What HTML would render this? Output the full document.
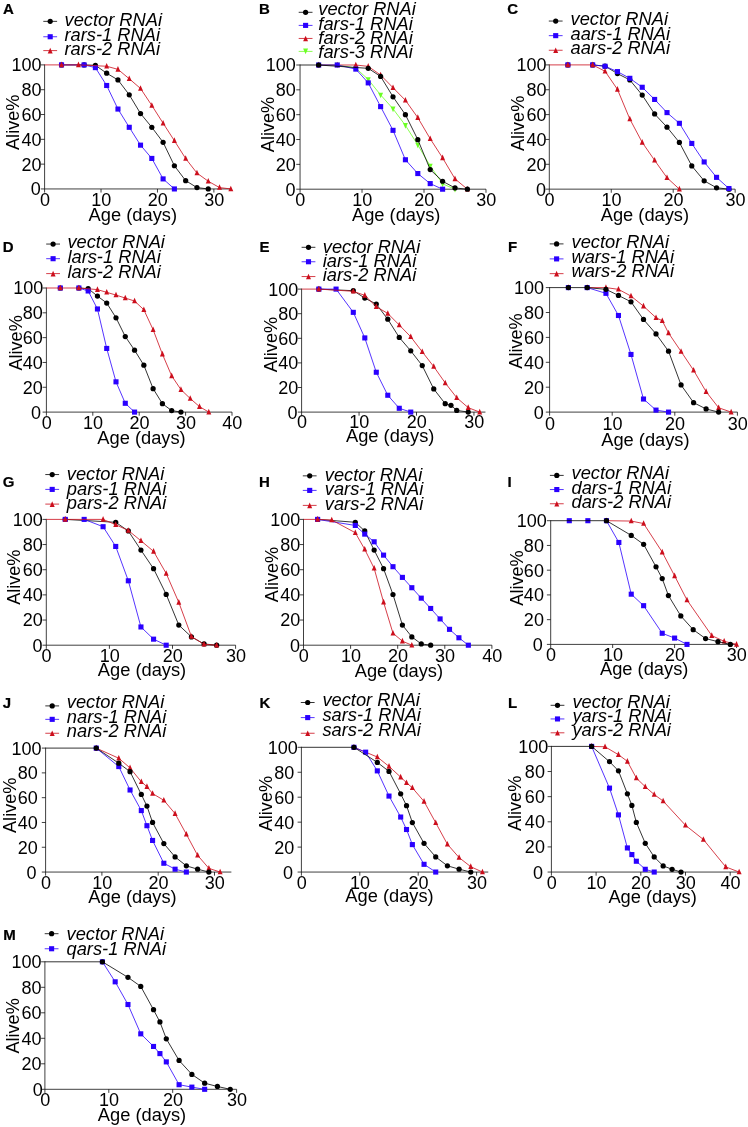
<!DOCTYPE html>
<html><head><meta charset="utf-8"><title>Figure</title>
<style>
html,body{margin:0;padding:0;background:#fff;}
body{width:748px;height:1127px;overflow:hidden;font-family:"Liberation Sans",sans-serif;}
svg{display:block;will-change:transform;}
</style></head><body>
<svg width="748" height="1127" viewBox="0 0 748 1127" font-family="'Liberation Sans', sans-serif" font-size="18.3" fill="#000">
<g>
<path d="M44.6 64.4V188.95 H230.82" fill="none" stroke="#000" stroke-width="0.75"/>
<path d="M40.8 188.95H44.6M40.8 164.14H44.6M40.8 139.33H44.6M40.8 114.52H44.6M40.8 89.71H44.6M40.8 64.9H44.6M44.6 188.95V192.55M101.03 188.95V192.55M157.46 188.95V192.55M213.89 188.95V192.55" fill="none" stroke="#000" stroke-width="0.75"/>
<text transform="translate(40.7,195.4) scale(1,1)" text-anchor="end" font-size="18">0</text>
<text transform="translate(41.6,170.59) scale(1,1)" text-anchor="end" font-size="18">20</text>
<text transform="translate(41.6,145.78) scale(1,1)" text-anchor="end" font-size="18">40</text>
<text transform="translate(41.6,120.97) scale(1,1)" text-anchor="end" font-size="18">60</text>
<text transform="translate(41.6,96.16) scale(1,1)" text-anchor="end" font-size="18">80</text>
<text transform="translate(41.6,71.35) scale(1,1)" text-anchor="end" font-size="18">100</text>
<text transform="translate(44.9,205.6) scale(1,1)" text-anchor="middle" font-size="18">0</text>
<text transform="translate(101.33,205.6) scale(1,1)" text-anchor="middle" font-size="18">10</text>
<text transform="translate(157.76,205.6) scale(1,1)" text-anchor="middle" font-size="18">20</text>
<text transform="translate(214.19,205.6) scale(1,1)" text-anchor="middle" font-size="18">30</text>
<text transform="translate(132.8,220.7) scale(1,1)" text-anchor="middle">Age (days)</text>
<text transform="translate(19.4,122.3) rotate(-90)" text-anchor="middle" font-size="18.1">Alive%</text>
<text transform="translate(3,13.7) scale(1.05,1)" font-size="14.3" font-weight="bold" stroke="#000" stroke-width="0.2">A</text>
<path d="M43.3 21.35H57.1" stroke="#000000" stroke-width="0.8" fill="none"/>
<circle cx="50.2" cy="21.35" r="2.62" fill="#000000"/>
<text transform="translate(64.5,26) scale(1,1)" font-style="italic">vector RNAi</text>
<path d="M43.3 36.75H57.1" stroke="#2a00ff" stroke-width="0.8" fill="none"/>
<rect x="47.65" y="34.2" width="5.1" height="5.1" fill="#2a00ff"/>
<text transform="translate(64.5,41) scale(1,1)" font-style="italic">rars-1 RNAi</text>
<path d="M43.3 50.6H57.1" stroke="#cc0e1c" stroke-width="0.8" fill="none"/>
<path d="M50.2 47.8L52.67 53.4L47.73 53.4Z" fill="#cc0e1c"/>
<text transform="translate(64.5,55) scale(1,1)" font-style="italic">rars-2 RNAi</text>
<path d="M61.53 64.9L84.1 64.9L95.39 65.27L106.67 73.21L117.96 79.91L129.25 94.8L140.53 113.53L151.82 127.3L163.1 142.31L174.39 165.75L185.67 180.64L196.96 187.59L208.25 188.95" fill="none" stroke="#000000" stroke-width="0.8" stroke-linejoin="round"/>
<circle cx="61.53" cy="64.9" r="2.62" fill="#000000"/>
<circle cx="84.1" cy="64.9" r="2.62" fill="#000000"/>
<circle cx="95.39" cy="65.27" r="2.62" fill="#000000"/>
<circle cx="106.67" cy="73.21" r="2.62" fill="#000000"/>
<circle cx="117.96" cy="79.91" r="2.62" fill="#000000"/>
<circle cx="129.25" cy="94.8" r="2.62" fill="#000000"/>
<circle cx="140.53" cy="113.53" r="2.62" fill="#000000"/>
<circle cx="151.82" cy="127.3" r="2.62" fill="#000000"/>
<circle cx="163.1" cy="142.31" r="2.62" fill="#000000"/>
<circle cx="174.39" cy="165.75" r="2.62" fill="#000000"/>
<circle cx="185.67" cy="180.64" r="2.62" fill="#000000"/>
<circle cx="196.96" cy="187.59" r="2.62" fill="#000000"/>
<circle cx="208.25" cy="188.95" r="2.62" fill="#000000"/>
<path d="M61.53 64.9L84.1 64.9L95.39 67.63L106.67 85.49L117.96 109.06L129.25 127.3L140.53 145.16L151.82 158.43L163.1 178.9L174.39 188.95" fill="none" stroke="#2a00ff" stroke-width="0.8" stroke-linejoin="round"/>
<rect x="58.98" y="62.35" width="5.1" height="5.1" fill="#2a00ff"/>
<rect x="81.55" y="62.35" width="5.1" height="5.1" fill="#2a00ff"/>
<rect x="92.84" y="65.08" width="5.1" height="5.1" fill="#2a00ff"/>
<rect x="104.12" y="82.94" width="5.1" height="5.1" fill="#2a00ff"/>
<rect x="115.41" y="106.51" width="5.1" height="5.1" fill="#2a00ff"/>
<rect x="126.7" y="124.75" width="5.1" height="5.1" fill="#2a00ff"/>
<rect x="137.98" y="142.61" width="5.1" height="5.1" fill="#2a00ff"/>
<rect x="149.27" y="155.88" width="5.1" height="5.1" fill="#2a00ff"/>
<rect x="160.55" y="176.35" width="5.1" height="5.1" fill="#2a00ff"/>
<rect x="171.84" y="186.4" width="5.1" height="5.1" fill="#2a00ff"/>
<path d="M44.6 64.9L61.53 64.9L78.46 64.9L106.67 66.26L117.96 69.37L129.25 78.79L140.53 88.47L151.82 105.46L163.1 123.2L174.39 140.69L185.67 158.56L196.96 173.07L208.25 181.26L219.53 187.59L230.82 188.95" fill="none" stroke="#cc0e1c" stroke-width="0.8" stroke-linejoin="round"/>
<path d="M61.53 61.58L64 67.18L59.06 67.18Z" fill="#cc0e1c"/>
<path d="M78.46 61.58L80.93 67.18L75.99 67.18Z" fill="#cc0e1c"/>
<path d="M106.67 62.94L109.14 68.54L104.2 68.54Z" fill="#cc0e1c"/>
<path d="M117.96 66.05L120.43 71.65L115.49 71.65Z" fill="#cc0e1c"/>
<path d="M129.25 75.47L131.72 81.07L126.78 81.07Z" fill="#cc0e1c"/>
<path d="M140.53 85.15L143 90.75L138.06 90.75Z" fill="#cc0e1c"/>
<path d="M151.82 102.14L154.29 107.74L149.35 107.74Z" fill="#cc0e1c"/>
<path d="M163.1 119.88L165.57 125.48L160.63 125.48Z" fill="#cc0e1c"/>
<path d="M174.39 137.37L176.86 142.97L171.92 142.97Z" fill="#cc0e1c"/>
<path d="M185.67 155.24L188.14 160.84L183.2 160.84Z" fill="#cc0e1c"/>
<path d="M196.96 169.75L199.43 175.35L194.49 175.35Z" fill="#cc0e1c"/>
<path d="M208.25 177.94L210.72 183.54L205.78 183.54Z" fill="#cc0e1c"/>
<path d="M219.53 184.27L222 189.87L217.06 189.87Z" fill="#cc0e1c"/>
<path d="M230.82 185.63L233.29 191.23L228.35 191.23Z" fill="#cc0e1c"/>
</g>
<g>
<path d="M300.05 64.5V189.2 H485.99" fill="none" stroke="#000" stroke-width="0.75"/>
<path d="M296.25 189.2H300.05M296.25 164.36H300.05M296.25 139.52H300.05M296.25 114.68H300.05M296.25 89.84H300.05M296.25 65H300.05M300.05 189.2V192.8M362.03 189.2V192.8M424.01 189.2V192.8M485.99 189.2V192.8" fill="none" stroke="#000" stroke-width="0.75"/>
<text transform="translate(295.45,195.65) scale(1,1)" text-anchor="end" font-size="18">0</text>
<text transform="translate(295.75,170.81) scale(1,1)" text-anchor="end" font-size="18">20</text>
<text transform="translate(295.75,145.97) scale(1,1)" text-anchor="end" font-size="18">40</text>
<text transform="translate(295.75,121.13) scale(1,1)" text-anchor="end" font-size="18">60</text>
<text transform="translate(295.75,96.29) scale(1,1)" text-anchor="end" font-size="18">80</text>
<text transform="translate(295.75,71.45) scale(1,1)" text-anchor="end" font-size="18">100</text>
<text transform="translate(300.35,206.2) scale(1,1)" text-anchor="middle" font-size="18">0</text>
<text transform="translate(362.33,206.2) scale(1,1)" text-anchor="middle" font-size="18">10</text>
<text transform="translate(424.31,206.2) scale(1,1)" text-anchor="middle" font-size="18">20</text>
<text transform="translate(486.29,206.2) scale(1,1)" text-anchor="middle" font-size="18">30</text>
<text transform="translate(396.2,221.1) scale(1,1)" text-anchor="middle">Age (days)</text>
<text transform="translate(274.3,124.5) rotate(-90)" text-anchor="middle" font-size="18.1">Alive%</text>
<text transform="translate(259,13.6) scale(1.05,1)" font-size="14.3" font-weight="bold" stroke="#000" stroke-width="0.2">B</text>
<path d="M298.7 12.3H312.5" stroke="#000000" stroke-width="0.8" fill="none"/>
<circle cx="305.6" cy="12.3" r="2.62" fill="#000000"/>
<text transform="translate(318.3,15) scale(1,1)" font-style="italic">vector RNAi</text>
<path d="M298.7 25.4H312.5" stroke="#2a00ff" stroke-width="0.8" fill="none"/>
<rect x="303.05" y="22.85" width="5.1" height="5.1" fill="#2a00ff"/>
<text transform="translate(318.3,30) scale(1,1)" font-style="italic">fars-1 RNAi</text>
<path d="M298.7 38.45H312.5" stroke="#cc0e1c" stroke-width="0.8" fill="none"/>
<path d="M305.6 35.65L308.07 41.25L303.13 41.25Z" fill="#cc0e1c"/>
<text transform="translate(318.3,44) scale(1,1)" font-style="italic">fars-2 RNAi</text>
<path d="M298.7 51.4H312.5" stroke="#6cff24" stroke-width="0.8" fill="none"/>
<path d="M305.6 54.2L308.07 48.6L303.13 48.6Z" fill="#6cff24"/>
<text transform="translate(318.3,58) scale(1,1)" font-style="italic">fars-3 RNAi</text>
<path d="M318.64 65L337.24 65L355.83 68.11L368.23 79.53L380.62 94.93L393.02 108.84L405.42 125.36L417.81 144.98L430.21 165.97L442.6 183.86L455 189.2" fill="none" stroke="#6cff24" stroke-width="0.8" stroke-linejoin="round"/>
<path d="M318.64 68.32L321.11 62.72L316.17 62.72Z" fill="#6cff24"/>
<path d="M337.24 68.32L339.71 62.72L334.77 62.72Z" fill="#6cff24"/>
<path d="M355.83 71.43L358.3 65.83L353.36 65.83Z" fill="#6cff24"/>
<path d="M368.23 82.85L370.7 77.25L365.76 77.25Z" fill="#6cff24"/>
<path d="M380.62 98.25L383.09 92.65L378.15 92.65Z" fill="#6cff24"/>
<path d="M393.02 112.16L395.49 106.56L390.55 106.56Z" fill="#6cff24"/>
<path d="M405.42 128.68L407.89 123.08L402.95 123.08Z" fill="#6cff24"/>
<path d="M417.81 148.3L420.28 142.7L415.34 142.7Z" fill="#6cff24"/>
<path d="M430.21 169.29L432.68 163.69L427.74 163.69Z" fill="#6cff24"/>
<path d="M442.6 187.18L445.07 181.58L440.13 181.58Z" fill="#6cff24"/>
<path d="M455 192.52L457.47 186.92L452.53 186.92Z" fill="#6cff24"/>
<path d="M318.64 65L337.24 65L355.83 65L368.23 66.37L380.62 75.06L393.02 87.73L405.42 100.27L417.81 117.66L430.21 138.77L442.6 157.9L455 178.89L467.4 189.2" fill="none" stroke="#cc0e1c" stroke-width="0.8" stroke-linejoin="round"/>
<path d="M318.64 61.68L321.11 67.28L316.17 67.28Z" fill="#cc0e1c"/>
<path d="M337.24 61.68L339.71 67.28L334.77 67.28Z" fill="#cc0e1c"/>
<path d="M355.83 61.68L358.3 67.28L353.36 67.28Z" fill="#cc0e1c"/>
<path d="M368.23 63.05L370.7 68.65L365.76 68.65Z" fill="#cc0e1c"/>
<path d="M380.62 71.74L383.09 77.34L378.15 77.34Z" fill="#cc0e1c"/>
<path d="M393.02 84.41L395.49 90.01L390.55 90.01Z" fill="#cc0e1c"/>
<path d="M405.42 96.95L407.89 102.55L402.95 102.55Z" fill="#cc0e1c"/>
<path d="M417.81 114.34L420.28 119.94L415.34 119.94Z" fill="#cc0e1c"/>
<path d="M430.21 135.45L432.68 141.05L427.74 141.05Z" fill="#cc0e1c"/>
<path d="M442.6 154.58L445.07 160.18L440.13 160.18Z" fill="#cc0e1c"/>
<path d="M455 175.57L457.47 181.17L452.53 181.17Z" fill="#cc0e1c"/>
<path d="M467.4 185.88L469.87 191.48L464.93 191.48Z" fill="#cc0e1c"/>
<path d="M318.64 65L337.24 65L355.83 69.1L368.23 82.88L380.62 106.61L393.02 130.33L405.42 159.76L417.81 173.55L430.21 183.61L442.6 189.2" fill="none" stroke="#2a00ff" stroke-width="0.8" stroke-linejoin="round"/>
<rect x="316.09" y="62.45" width="5.1" height="5.1" fill="#2a00ff"/>
<rect x="334.69" y="62.45" width="5.1" height="5.1" fill="#2a00ff"/>
<rect x="353.28" y="66.55" width="5.1" height="5.1" fill="#2a00ff"/>
<rect x="365.68" y="80.33" width="5.1" height="5.1" fill="#2a00ff"/>
<rect x="378.07" y="104.06" width="5.1" height="5.1" fill="#2a00ff"/>
<rect x="390.47" y="127.78" width="5.1" height="5.1" fill="#2a00ff"/>
<rect x="402.87" y="157.21" width="5.1" height="5.1" fill="#2a00ff"/>
<rect x="415.26" y="171" width="5.1" height="5.1" fill="#2a00ff"/>
<rect x="427.66" y="181.06" width="5.1" height="5.1" fill="#2a00ff"/>
<rect x="440.05" y="186.65" width="5.1" height="5.1" fill="#2a00ff"/>
<path d="M300.05 65L318.64 65L368.23 68.35L380.62 76.43L393.02 96.8L405.42 114.68L417.81 139.64L430.21 169.58L442.6 181.25L455 187.96L467.4 189.2" fill="none" stroke="#000000" stroke-width="0.8" stroke-linejoin="round"/>
<circle cx="318.64" cy="65" r="2.62" fill="#000000"/>
<circle cx="368.23" cy="68.35" r="2.62" fill="#000000"/>
<circle cx="380.62" cy="76.43" r="2.62" fill="#000000"/>
<circle cx="393.02" cy="96.8" r="2.62" fill="#000000"/>
<circle cx="405.42" cy="114.68" r="2.62" fill="#000000"/>
<circle cx="417.81" cy="139.64" r="2.62" fill="#000000"/>
<circle cx="430.21" cy="169.58" r="2.62" fill="#000000"/>
<circle cx="442.6" cy="181.25" r="2.62" fill="#000000"/>
<circle cx="455" cy="187.96" r="2.62" fill="#000000"/>
<circle cx="467.4" cy="189.2" r="2.62" fill="#000000"/>
</g>
<g>
<path d="M549.3 64.4V189.15 H735.15" fill="none" stroke="#000" stroke-width="0.75"/>
<path d="M545.5 189.15H549.3M545.5 164.3H549.3M545.5 139.45H549.3M545.5 114.6H549.3M545.5 89.75H549.3M545.5 64.9H549.3M549.3 189.15V192.75M611.25 189.15V192.75M673.2 189.15V192.75M735.15 189.15V192.75" fill="none" stroke="#000" stroke-width="0.75"/>
<text transform="translate(546.1,195.6) scale(1,1)" text-anchor="end" font-size="18">0</text>
<text transform="translate(546.5,170.75) scale(1,1)" text-anchor="end" font-size="18">20</text>
<text transform="translate(546.5,145.9) scale(1,1)" text-anchor="end" font-size="18">40</text>
<text transform="translate(546.5,121.05) scale(1,1)" text-anchor="end" font-size="18">60</text>
<text transform="translate(546.5,96.2) scale(1,1)" text-anchor="end" font-size="18">80</text>
<text transform="translate(546.5,71.35) scale(1,1)" text-anchor="end" font-size="18">100</text>
<text transform="translate(549.6,205.9) scale(1,1)" text-anchor="middle" font-size="18">0</text>
<text transform="translate(611.55,205.9) scale(1,1)" text-anchor="middle" font-size="18">10</text>
<text transform="translate(673.5,205.9) scale(1,1)" text-anchor="middle" font-size="18">20</text>
<text transform="translate(735.45,205.9) scale(1,1)" text-anchor="middle" font-size="18">30</text>
<text transform="translate(644.9,221) scale(1,1)" text-anchor="middle">Age (days)</text>
<text transform="translate(523.5,123.4) rotate(-90)" text-anchor="middle" font-size="18.1">Alive%</text>
<text transform="translate(507.2,13.7) scale(1.05,1)" font-size="14.3" font-weight="bold" stroke="#000" stroke-width="0.2">C</text>
<path d="M548.8 21.05H562.6" stroke="#000000" stroke-width="0.8" fill="none"/>
<circle cx="555.7" cy="21.05" r="2.62" fill="#000000"/>
<text transform="translate(570.5,25) scale(1,1)" font-style="italic">vector RNAi</text>
<path d="M548.8 35.65H562.6" stroke="#2a00ff" stroke-width="0.8" fill="none"/>
<rect x="553.15" y="33.1" width="5.1" height="5.1" fill="#2a00ff"/>
<text transform="translate(570.5,40) scale(1,1)" font-style="italic">aars-1 RNAi</text>
<path d="M548.8 50.25H562.6" stroke="#cc0e1c" stroke-width="0.8" fill="none"/>
<path d="M555.7 47.45L558.17 53.05L553.23 53.05Z" fill="#cc0e1c"/>
<text transform="translate(570.5,54) scale(1,1)" font-style="italic">aars-2 RNAi</text>
<path d="M592.66 64.9L605.05 66.14L617.44 73.6L629.83 79.93L642.22 95.09L654.62 113.98L667 127.15L679.39 142.43L691.78 165.92L704.17 180.83L716.56 187.78L728.95 189.15" fill="none" stroke="#000000" stroke-width="0.8" stroke-linejoin="round"/>
<circle cx="567.88" cy="64.9" r="2.62" fill="#000000"/>
<circle cx="592.66" cy="64.9" r="2.62" fill="#000000"/>
<circle cx="605.05" cy="66.14" r="2.62" fill="#000000"/>
<circle cx="617.44" cy="73.6" r="2.62" fill="#000000"/>
<circle cx="629.83" cy="79.93" r="2.62" fill="#000000"/>
<circle cx="642.22" cy="95.09" r="2.62" fill="#000000"/>
<circle cx="654.62" cy="113.98" r="2.62" fill="#000000"/>
<circle cx="667" cy="127.15" r="2.62" fill="#000000"/>
<circle cx="679.39" cy="142.43" r="2.62" fill="#000000"/>
<circle cx="691.78" cy="165.92" r="2.62" fill="#000000"/>
<circle cx="704.17" cy="180.83" r="2.62" fill="#000000"/>
<circle cx="716.56" cy="187.78" r="2.62" fill="#000000"/>
<circle cx="728.95" cy="189.15" r="2.62" fill="#000000"/>
<path d="M592.66 64.9L605.05 66.27L617.44 71.61L629.83 78.32L642.22 87.27L654.62 99.44L667 112.61L679.39 123.3L691.78 143.43L704.17 161.94L716.56 177.35L728.95 188.53" fill="none" stroke="#2a00ff" stroke-width="0.8" stroke-linejoin="round"/>
<rect x="565.34" y="62.35" width="5.1" height="5.1" fill="#2a00ff"/>
<rect x="590.12" y="62.35" width="5.1" height="5.1" fill="#2a00ff"/>
<rect x="602.5" y="63.72" width="5.1" height="5.1" fill="#2a00ff"/>
<rect x="614.89" y="69.06" width="5.1" height="5.1" fill="#2a00ff"/>
<rect x="627.28" y="75.77" width="5.1" height="5.1" fill="#2a00ff"/>
<rect x="639.67" y="84.72" width="5.1" height="5.1" fill="#2a00ff"/>
<rect x="652.07" y="96.89" width="5.1" height="5.1" fill="#2a00ff"/>
<rect x="664.46" y="110.06" width="5.1" height="5.1" fill="#2a00ff"/>
<rect x="676.85" y="120.75" width="5.1" height="5.1" fill="#2a00ff"/>
<rect x="689.24" y="140.88" width="5.1" height="5.1" fill="#2a00ff"/>
<rect x="701.62" y="159.39" width="5.1" height="5.1" fill="#2a00ff"/>
<rect x="714.01" y="174.8" width="5.1" height="5.1" fill="#2a00ff"/>
<rect x="726.4" y="185.98" width="5.1" height="5.1" fill="#2a00ff"/>
<path d="M549.3 64.9L567.88 64.9L592.66 64.9L605.05 71.24L617.44 89.38L629.83 119.07L642.22 142.43L654.62 160.32L667 177.72L679.39 189.15" fill="none" stroke="#cc0e1c" stroke-width="0.8" stroke-linejoin="round"/>
<path d="M567.88 61.58L570.36 67.18L565.41 67.18Z" fill="#cc0e1c"/>
<path d="M592.66 61.58L595.13 67.18L590.19 67.18Z" fill="#cc0e1c"/>
<path d="M605.05 67.92L607.52 73.52L602.58 73.52Z" fill="#cc0e1c"/>
<path d="M617.44 86.06L619.91 91.66L614.97 91.66Z" fill="#cc0e1c"/>
<path d="M629.83 115.75L632.3 121.35L627.36 121.35Z" fill="#cc0e1c"/>
<path d="M642.22 139.11L644.69 144.71L639.75 144.71Z" fill="#cc0e1c"/>
<path d="M654.62 157L657.09 162.6L652.14 162.6Z" fill="#cc0e1c"/>
<path d="M667 174.4L669.48 180L664.53 180Z" fill="#cc0e1c"/>
<path d="M679.39 185.83L681.87 191.43L676.92 191.43Z" fill="#cc0e1c"/>
</g>
<g>
<path d="M46.4 287.5V412.1 H232" fill="none" stroke="#000" stroke-width="0.75"/>
<path d="M42.6 412.1H46.4M42.6 387.28H46.4M42.6 362.46H46.4M42.6 337.64H46.4M42.6 312.82H46.4M42.6 288H46.4M46.4 412.1V415.7M92.8 412.1V415.7M139.2 412.1V415.7M185.6 412.1V415.7M232 412.1V415.7" fill="none" stroke="#000" stroke-width="0.75"/>
<text transform="translate(40.9,418.55) scale(1,1)" text-anchor="end" font-size="18">0</text>
<text transform="translate(42.8,393.73) scale(1,1)" text-anchor="end" font-size="18">20</text>
<text transform="translate(42.8,368.91) scale(1,1)" text-anchor="end" font-size="18">40</text>
<text transform="translate(42.8,344.09) scale(1,1)" text-anchor="end" font-size="18">60</text>
<text transform="translate(42.8,319.27) scale(1,1)" text-anchor="end" font-size="18">80</text>
<text transform="translate(43.3,294.45) scale(1,1)" text-anchor="end" font-size="18">100</text>
<text transform="translate(46.7,429) scale(1,1)" text-anchor="middle" font-size="18">0</text>
<text transform="translate(93.1,429) scale(1,1)" text-anchor="middle" font-size="18">10</text>
<text transform="translate(139.5,429) scale(1,1)" text-anchor="middle" font-size="18">20</text>
<text transform="translate(185.9,429) scale(1,1)" text-anchor="middle" font-size="18">30</text>
<text transform="translate(232.3,429) scale(1,1)" text-anchor="middle" font-size="18">40</text>
<text transform="translate(141.5,444.4) scale(1,1)" text-anchor="middle">Age (days)</text>
<text transform="translate(21.5,342.9) rotate(-90)" text-anchor="middle" font-size="18.1">Alive%</text>
<text transform="translate(2.8,251.6) scale(1.05,1)" font-size="14.3" font-weight="bold" stroke="#000" stroke-width="0.2">D</text>
<path d="M46.2 244.05H60" stroke="#000000" stroke-width="0.8" fill="none"/>
<circle cx="53.1" cy="244.05" r="2.62" fill="#000000"/>
<text transform="translate(67.4,248) scale(1,1)" font-style="italic">vector RNAi</text>
<path d="M46.2 258.7H60" stroke="#2a00ff" stroke-width="0.8" fill="none"/>
<rect x="50.55" y="256.15" width="5.1" height="5.1" fill="#2a00ff"/>
<text transform="translate(67.4,263) scale(1,1)" font-style="italic">lars-1 RNAi</text>
<path d="M46.2 273.6H60" stroke="#cc0e1c" stroke-width="0.8" fill="none"/>
<path d="M53.1 270.8L55.57 276.4L50.63 276.4Z" fill="#cc0e1c"/>
<text transform="translate(67.4,278) scale(1,1)" font-style="italic">lars-2 RNAi</text>
<path d="M78.88 288L88.16 288.62L97.44 296.07L106.72 303.02L116 317.78L125.28 336.52L134.56 350.17L143.84 365.19L153.12 388.65L162.4 403.66L171.68 410.61L180.96 412.1" fill="none" stroke="#000000" stroke-width="0.8" stroke-linejoin="round"/>
<circle cx="60.32" cy="288" r="2.62" fill="#000000"/>
<circle cx="78.88" cy="288" r="2.62" fill="#000000"/>
<circle cx="88.16" cy="288.62" r="2.62" fill="#000000"/>
<circle cx="97.44" cy="296.07" r="2.62" fill="#000000"/>
<circle cx="106.72" cy="303.02" r="2.62" fill="#000000"/>
<circle cx="116" cy="317.78" r="2.62" fill="#000000"/>
<circle cx="125.28" cy="336.52" r="2.62" fill="#000000"/>
<circle cx="134.56" cy="350.17" r="2.62" fill="#000000"/>
<circle cx="143.84" cy="365.19" r="2.62" fill="#000000"/>
<circle cx="153.12" cy="388.65" r="2.62" fill="#000000"/>
<circle cx="162.4" cy="403.66" r="2.62" fill="#000000"/>
<circle cx="171.68" cy="410.61" r="2.62" fill="#000000"/>
<circle cx="180.96" cy="412.1" r="2.62" fill="#000000"/>
<path d="M78.88 288L88.16 290.98L97.44 308.97L106.72 348.44L116 381.82L125.28 403.29L134.56 412.1" fill="none" stroke="#2a00ff" stroke-width="0.8" stroke-linejoin="round"/>
<rect x="57.77" y="285.45" width="5.1" height="5.1" fill="#2a00ff"/>
<rect x="76.33" y="285.45" width="5.1" height="5.1" fill="#2a00ff"/>
<rect x="85.61" y="288.43" width="5.1" height="5.1" fill="#2a00ff"/>
<rect x="94.89" y="306.42" width="5.1" height="5.1" fill="#2a00ff"/>
<rect x="104.17" y="345.89" width="5.1" height="5.1" fill="#2a00ff"/>
<rect x="113.45" y="379.27" width="5.1" height="5.1" fill="#2a00ff"/>
<rect x="122.73" y="400.74" width="5.1" height="5.1" fill="#2a00ff"/>
<rect x="132.01" y="409.55" width="5.1" height="5.1" fill="#2a00ff"/>
<path d="M46.4 288L60.32 288L78.88 288L97.44 289.61L106.72 292.34L116 295.07L125.28 298.05L134.56 301.03L143.84 309.72L153.12 329.7L162.4 354.15L171.68 375.86L180.96 389.64L190.24 398.57L199.52 406.64L208.8 412.1" fill="none" stroke="#cc0e1c" stroke-width="0.8" stroke-linejoin="round"/>
<path d="M60.32 284.68L62.79 290.28L57.85 290.28Z" fill="#cc0e1c"/>
<path d="M78.88 284.68L81.35 290.28L76.41 290.28Z" fill="#cc0e1c"/>
<path d="M97.44 286.29L99.91 291.89L94.97 291.89Z" fill="#cc0e1c"/>
<path d="M106.72 289.02L109.19 294.62L104.25 294.62Z" fill="#cc0e1c"/>
<path d="M116 291.75L118.47 297.35L113.53 297.35Z" fill="#cc0e1c"/>
<path d="M125.28 294.73L127.75 300.33L122.81 300.33Z" fill="#cc0e1c"/>
<path d="M134.56 297.71L137.03 303.31L132.09 303.31Z" fill="#cc0e1c"/>
<path d="M143.84 306.4L146.31 312L141.37 312Z" fill="#cc0e1c"/>
<path d="M153.12 326.38L155.59 331.98L150.65 331.98Z" fill="#cc0e1c"/>
<path d="M162.4 350.83L164.87 356.43L159.93 356.43Z" fill="#cc0e1c"/>
<path d="M171.68 372.54L174.15 378.14L169.21 378.14Z" fill="#cc0e1c"/>
<path d="M180.96 386.32L183.43 391.92L178.49 391.92Z" fill="#cc0e1c"/>
<path d="M190.24 395.25L192.71 400.85L187.77 400.85Z" fill="#cc0e1c"/>
<path d="M199.52 403.32L201.99 408.92L197.05 408.92Z" fill="#cc0e1c"/>
<path d="M208.8 408.78L211.27 414.38L206.33 414.38Z" fill="#cc0e1c"/>
</g>
<g>
<path d="M301.6 288.6V412.1 H485.44" fill="none" stroke="#000" stroke-width="0.75"/>
<path d="M297.8 412.1H301.6M297.8 387.5H301.6M297.8 362.9H301.6M297.8 338.3H301.6M297.8 313.7H301.6M297.8 289.1H301.6M301.6 412.1V415.7M359.05 412.1V415.7M416.5 412.1V415.7M473.95 412.1V415.7" fill="none" stroke="#000" stroke-width="0.75"/>
<text transform="translate(297.6,418.55) scale(1,1)" text-anchor="end" font-size="18">0</text>
<text transform="translate(298.3,393.95) scale(1,1)" text-anchor="end" font-size="18">20</text>
<text transform="translate(298.3,369.35) scale(1,1)" text-anchor="end" font-size="18">40</text>
<text transform="translate(298.3,344.75) scale(1,1)" text-anchor="end" font-size="18">60</text>
<text transform="translate(298.3,320.15) scale(1,1)" text-anchor="end" font-size="18">80</text>
<text transform="translate(298.3,295.55) scale(1,1)" text-anchor="end" font-size="18">100</text>
<text transform="translate(301.9,428.4) scale(1,1)" text-anchor="middle" font-size="18">0</text>
<text transform="translate(359.35,428.4) scale(1,1)" text-anchor="middle" font-size="18">10</text>
<text transform="translate(416.8,428.4) scale(1,1)" text-anchor="middle" font-size="18">20</text>
<text transform="translate(474.25,428.4) scale(1,1)" text-anchor="middle" font-size="18">30</text>
<text transform="translate(390.2,442.4) scale(1,1)" text-anchor="middle">Age (days)</text>
<text transform="translate(276.5,344.6) rotate(-90)" text-anchor="middle" font-size="18.1">Alive%</text>
<text transform="translate(259.4,251.6) scale(1.05,1)" font-size="14.3" font-weight="bold" stroke="#000" stroke-width="0.2">E</text>
<path d="M301.6 247.3H315.4" stroke="#000000" stroke-width="0.8" fill="none"/>
<circle cx="308.5" cy="247.3" r="2.62" fill="#000000"/>
<text transform="translate(322.8,253) scale(1,1)" font-style="italic">vector RNAi</text>
<path d="M301.6 261.75H315.4" stroke="#2a00ff" stroke-width="0.8" fill="none"/>
<rect x="305.95" y="259.2" width="5.1" height="5.1" fill="#2a00ff"/>
<text transform="translate(322.8,267) scale(1,1)" font-style="italic">iars-1 RNAi</text>
<path d="M301.6 276.55H315.4" stroke="#cc0e1c" stroke-width="0.8" fill="none"/>
<path d="M308.5 273.75L310.97 279.35L306.03 279.35Z" fill="#cc0e1c"/>
<text transform="translate(322.8,281) scale(1,1)" font-style="italic">iars-2 RNAi</text>
<path d="M318.84 289.1L353.31 290.7L364.8 298.08L376.29 304.11L387.78 319.24L399.27 337.44L410.75 350.85L422.25 365.61L433.74 388.98L445.23 403.74L450.97 405.34L456.72 410.38L468.21 412.1" fill="none" stroke="#000000" stroke-width="0.8" stroke-linejoin="round"/>
<circle cx="318.84" cy="289.1" r="2.62" fill="#000000"/>
<circle cx="353.31" cy="290.7" r="2.62" fill="#000000"/>
<circle cx="364.8" cy="298.08" r="2.62" fill="#000000"/>
<circle cx="376.29" cy="304.11" r="2.62" fill="#000000"/>
<circle cx="387.78" cy="319.24" r="2.62" fill="#000000"/>
<circle cx="399.27" cy="337.44" r="2.62" fill="#000000"/>
<circle cx="410.75" cy="350.85" r="2.62" fill="#000000"/>
<circle cx="422.25" cy="365.61" r="2.62" fill="#000000"/>
<circle cx="433.74" cy="388.98" r="2.62" fill="#000000"/>
<circle cx="445.23" cy="403.74" r="2.62" fill="#000000"/>
<circle cx="450.97" cy="405.34" r="2.62" fill="#000000"/>
<circle cx="456.72" cy="410.38" r="2.62" fill="#000000"/>
<circle cx="468.21" cy="412.1" r="2.62" fill="#000000"/>
<path d="M318.84 289.1L336.07 289.1L353.31 312.35L364.8 337.93L376.29 372.25L387.78 395.25L399.27 408.29L410.75 412.1" fill="none" stroke="#2a00ff" stroke-width="0.8" stroke-linejoin="round"/>
<rect x="316.29" y="286.55" width="5.1" height="5.1" fill="#2a00ff"/>
<rect x="333.52" y="286.55" width="5.1" height="5.1" fill="#2a00ff"/>
<rect x="350.75" y="309.8" width="5.1" height="5.1" fill="#2a00ff"/>
<rect x="362.25" y="335.38" width="5.1" height="5.1" fill="#2a00ff"/>
<rect x="373.74" y="369.7" width="5.1" height="5.1" fill="#2a00ff"/>
<rect x="385.23" y="392.7" width="5.1" height="5.1" fill="#2a00ff"/>
<rect x="396.72" y="405.74" width="5.1" height="5.1" fill="#2a00ff"/>
<rect x="408.2" y="409.55" width="5.1" height="5.1" fill="#2a00ff"/>
<path d="M301.6 289.1L318.84 289.1L353.31 291.31L364.8 295.37L376.29 306.69L387.78 313.45L399.27 325.02L410.75 336.82L422.25 351.83L433.74 366.59L445.23 382.95L456.72 397.71L468.21 407.67L479.7 412.1" fill="none" stroke="#cc0e1c" stroke-width="0.8" stroke-linejoin="round"/>
<path d="M318.84 285.78L321.31 291.38L316.37 291.38Z" fill="#cc0e1c"/>
<path d="M353.31 287.99L355.78 293.59L350.83 293.59Z" fill="#cc0e1c"/>
<path d="M364.8 292.05L367.27 297.65L362.32 297.65Z" fill="#cc0e1c"/>
<path d="M376.29 303.37L378.76 308.97L373.81 308.97Z" fill="#cc0e1c"/>
<path d="M387.78 310.13L390.25 315.73L385.31 315.73Z" fill="#cc0e1c"/>
<path d="M399.27 321.7L401.74 327.3L396.8 327.3Z" fill="#cc0e1c"/>
<path d="M410.75 333.5L413.23 339.1L408.28 339.1Z" fill="#cc0e1c"/>
<path d="M422.25 348.51L424.72 354.11L419.77 354.11Z" fill="#cc0e1c"/>
<path d="M433.74 363.27L436.21 368.87L431.26 368.87Z" fill="#cc0e1c"/>
<path d="M445.23 379.63L447.7 385.23L442.75 385.23Z" fill="#cc0e1c"/>
<path d="M456.72 394.39L459.19 399.99L454.25 399.99Z" fill="#cc0e1c"/>
<path d="M468.21 404.35L470.68 409.95L465.74 409.95Z" fill="#cc0e1c"/>
<path d="M479.7 408.78L482.17 414.38L477.23 414.38Z" fill="#cc0e1c"/>
</g>
<g>
<path d="M549.6 287.1V412.1 H737.4" fill="none" stroke="#000" stroke-width="0.75"/>
<path d="M545.8 412.1H549.6M545.8 387.2H549.6M545.8 362.3H549.6M545.8 337.4H549.6M545.8 312.5H549.6M545.8 287.6H549.6M549.6 412.1V415.7M612.2 412.1V415.7M674.8 412.1V415.7M737.4 412.1V415.7" fill="none" stroke="#000" stroke-width="0.75"/>
<text transform="translate(543.8,418.55) scale(1,1)" text-anchor="end" font-size="18">0</text>
<text transform="translate(544.1,393.65) scale(1,1)" text-anchor="end" font-size="18">20</text>
<text transform="translate(544.1,368.75) scale(1,1)" text-anchor="end" font-size="18">40</text>
<text transform="translate(544.1,343.85) scale(1,1)" text-anchor="end" font-size="18">60</text>
<text transform="translate(544.1,318.95) scale(1,1)" text-anchor="end" font-size="18">80</text>
<text transform="translate(544.1,294.05) scale(1,1)" text-anchor="end" font-size="18">100</text>
<text transform="translate(549.9,430.3) scale(1,1)" text-anchor="middle" font-size="18">0</text>
<text transform="translate(612.5,430.3) scale(1,1)" text-anchor="middle" font-size="18">10</text>
<text transform="translate(675.1,430.3) scale(1,1)" text-anchor="middle" font-size="18">20</text>
<text transform="translate(737.7,430.3) scale(1,1)" text-anchor="middle" font-size="18">30</text>
<text transform="translate(645.4,445.6) scale(1,1)" text-anchor="middle">Age (days)</text>
<text transform="translate(522.3,341) rotate(-90)" text-anchor="middle" font-size="18.1">Alive%</text>
<text transform="translate(507.9,251.6) scale(1.05,1)" font-size="14.3" font-weight="bold" stroke="#000" stroke-width="0.2">F</text>
<path d="M549.7 243.9H563.5" stroke="#000000" stroke-width="0.8" fill="none"/>
<circle cx="556.6" cy="243.9" r="2.62" fill="#000000"/>
<text transform="translate(571.5,248) scale(1,1)" font-style="italic">vector RNAi</text>
<path d="M549.7 258.9H563.5" stroke="#2a00ff" stroke-width="0.8" fill="none"/>
<rect x="554.05" y="256.35" width="5.1" height="5.1" fill="#2a00ff"/>
<text transform="translate(571.5,263) scale(1,1)" font-style="italic">wars-1 RNAi</text>
<path d="M549.7 273.65H563.5" stroke="#cc0e1c" stroke-width="0.8" fill="none"/>
<path d="M556.6 270.85L559.07 276.45L554.13 276.45Z" fill="#cc0e1c"/>
<text transform="translate(571.5,277) scale(1,1)" font-style="italic">wars-2 RNAi</text>
<path d="M587.16 287.6L605.94 287.6L618.46 289.34L630.98 296.07L643.5 306.15L656.02 317.73L662.28 320.72L668.54 333.04L681.06 351.47L693.58 370.27L706.1 391.68L718.62 407.74L731.14 412.1" fill="none" stroke="#cc0e1c" stroke-width="0.8" stroke-linejoin="round"/>
<path d="M568.38 284.28L570.85 289.88L565.91 289.88Z" fill="#cc0e1c"/>
<path d="M587.16 284.28L589.63 289.88L584.69 289.88Z" fill="#cc0e1c"/>
<path d="M605.94 284.28L608.41 289.88L603.47 289.88Z" fill="#cc0e1c"/>
<path d="M618.46 286.02L620.93 291.62L615.99 291.62Z" fill="#cc0e1c"/>
<path d="M630.98 292.75L633.45 298.35L628.51 298.35Z" fill="#cc0e1c"/>
<path d="M643.5 302.83L645.97 308.43L641.03 308.43Z" fill="#cc0e1c"/>
<path d="M656.02 314.41L658.49 320.01L653.55 320.01Z" fill="#cc0e1c"/>
<path d="M662.28 317.4L664.75 323L659.81 323Z" fill="#cc0e1c"/>
<path d="M668.54 329.72L671.01 335.32L666.07 335.32Z" fill="#cc0e1c"/>
<path d="M681.06 348.15L683.53 353.75L678.59 353.75Z" fill="#cc0e1c"/>
<path d="M693.58 366.95L696.05 372.55L691.11 372.55Z" fill="#cc0e1c"/>
<path d="M706.1 388.36L708.57 393.96L703.63 393.96Z" fill="#cc0e1c"/>
<path d="M718.62 404.42L721.09 410.02L716.15 410.02Z" fill="#cc0e1c"/>
<path d="M731.14 408.78L733.61 414.38L728.67 414.38Z" fill="#cc0e1c"/>
<path d="M587.16 287.6L605.94 293.33L618.46 315.49L630.98 354.46L643.5 399.03L656.02 410.11L668.54 412.1" fill="none" stroke="#2a00ff" stroke-width="0.8" stroke-linejoin="round"/>
<rect x="565.83" y="285.05" width="5.1" height="5.1" fill="#2a00ff"/>
<rect x="584.61" y="285.05" width="5.1" height="5.1" fill="#2a00ff"/>
<rect x="603.39" y="290.78" width="5.1" height="5.1" fill="#2a00ff"/>
<rect x="615.91" y="312.94" width="5.1" height="5.1" fill="#2a00ff"/>
<rect x="628.43" y="351.91" width="5.1" height="5.1" fill="#2a00ff"/>
<rect x="640.95" y="396.48" width="5.1" height="5.1" fill="#2a00ff"/>
<rect x="653.47" y="407.56" width="5.1" height="5.1" fill="#2a00ff"/>
<rect x="665.99" y="409.55" width="5.1" height="5.1" fill="#2a00ff"/>
<path d="M549.6 287.6L568.38 287.6L587.16 287.6L605.94 289.34L618.46 295.44L630.98 301.79L643.5 319.47L656.02 333.91L668.54 351.22L681.06 384.96L693.58 402.64L706.1 408.99L718.62 412.1" fill="none" stroke="#000000" stroke-width="0.8" stroke-linejoin="round"/>
<circle cx="568.38" cy="287.6" r="2.62" fill="#000000"/>
<circle cx="587.16" cy="287.6" r="2.62" fill="#000000"/>
<circle cx="605.94" cy="289.34" r="2.62" fill="#000000"/>
<circle cx="618.46" cy="295.44" r="2.62" fill="#000000"/>
<circle cx="630.98" cy="301.79" r="2.62" fill="#000000"/>
<circle cx="643.5" cy="319.47" r="2.62" fill="#000000"/>
<circle cx="656.02" cy="333.91" r="2.62" fill="#000000"/>
<circle cx="668.54" cy="351.22" r="2.62" fill="#000000"/>
<circle cx="681.06" cy="384.96" r="2.62" fill="#000000"/>
<circle cx="693.58" cy="402.64" r="2.62" fill="#000000"/>
<circle cx="706.1" cy="408.99" r="2.62" fill="#000000"/>
<circle cx="718.62" cy="412.1" r="2.62" fill="#000000"/>
</g>
<g>
<path d="M46.3 518.9V645.2 H235.6" fill="none" stroke="#000" stroke-width="0.75"/>
<path d="M42.5 645.2H46.3M42.5 620.04H46.3M42.5 594.88H46.3M42.5 569.72H46.3M42.5 544.56H46.3M42.5 519.4H46.3M46.3 645.2V648.8M109.4 645.2V648.8M172.5 645.2V648.8M235.6 645.2V648.8" fill="none" stroke="#000" stroke-width="0.75"/>
<text transform="translate(42.5,651.65) scale(1,1)" text-anchor="end" font-size="18">0</text>
<text transform="translate(42.7,626.49) scale(1,1)" text-anchor="end" font-size="18">20</text>
<text transform="translate(42.7,601.33) scale(1,1)" text-anchor="end" font-size="18">40</text>
<text transform="translate(42.7,576.17) scale(1,1)" text-anchor="end" font-size="18">60</text>
<text transform="translate(42.7,551.01) scale(1,1)" text-anchor="end" font-size="18">80</text>
<text transform="translate(42.7,525.85) scale(1,1)" text-anchor="end" font-size="18">100</text>
<text transform="translate(46.6,661.8) scale(1,1)" text-anchor="middle" font-size="18">0</text>
<text transform="translate(109.7,661.8) scale(1,1)" text-anchor="middle" font-size="18">10</text>
<text transform="translate(172.8,661.8) scale(1,1)" text-anchor="middle" font-size="18">20</text>
<text transform="translate(235.9,661.8) scale(1,1)" text-anchor="middle" font-size="18">30</text>
<text transform="translate(142,676.4) scale(1,1)" text-anchor="middle">Age (days)</text>
<text transform="translate(19.8,577.2) rotate(-90)" text-anchor="middle" font-size="18.1">Alive%</text>
<text transform="translate(2.8,486.7) scale(1.05,1)" font-size="14.3" font-weight="bold" stroke="#000" stroke-width="0.2">G</text>
<path d="M45.3 474.55H59.1" stroke="#000000" stroke-width="0.8" fill="none"/>
<circle cx="52.2" cy="474.55" r="2.62" fill="#000000"/>
<text transform="translate(66.8,480) scale(1,1)" font-style="italic">vector RNAi</text>
<path d="M45.3 489.4H59.1" stroke="#2a00ff" stroke-width="0.8" fill="none"/>
<rect x="49.65" y="486.85" width="5.1" height="5.1" fill="#2a00ff"/>
<text transform="translate(66.8,495) scale(1,1)" font-style="italic">pars-1 RNAi</text>
<path d="M45.3 504.1H59.1" stroke="#cc0e1c" stroke-width="0.8" fill="none"/>
<path d="M52.2 501.3L54.67 506.9L49.73 506.9Z" fill="#cc0e1c"/>
<text transform="translate(66.8,509) scale(1,1)" font-style="italic">pars-2 RNAi</text>
<path d="M65.23 519.4L115.71 522.29L128.33 530.97L140.95 550.1L153.57 568.71L166.19 594.38L178.81 625.07L191.43 636.9L204.05 643.94L216.67 645.2" fill="none" stroke="#000000" stroke-width="0.8" stroke-linejoin="round"/>
<circle cx="65.23" cy="519.4" r="2.62" fill="#000000"/>
<circle cx="115.71" cy="522.29" r="2.62" fill="#000000"/>
<circle cx="128.33" cy="530.97" r="2.62" fill="#000000"/>
<circle cx="140.95" cy="550.1" r="2.62" fill="#000000"/>
<circle cx="153.57" cy="568.71" r="2.62" fill="#000000"/>
<circle cx="166.19" cy="594.38" r="2.62" fill="#000000"/>
<circle cx="178.81" cy="625.07" r="2.62" fill="#000000"/>
<circle cx="191.43" cy="636.9" r="2.62" fill="#000000"/>
<circle cx="204.05" cy="643.94" r="2.62" fill="#000000"/>
<circle cx="216.67" cy="645.2" r="2.62" fill="#000000"/>
<path d="M84.16 519.4L103.09 526.7L115.71 546.45L128.33 580.79L140.95 626.96L153.57 639.16L166.19 645.2" fill="none" stroke="#2a00ff" stroke-width="0.8" stroke-linejoin="round"/>
<rect x="62.68" y="516.85" width="5.1" height="5.1" fill="#2a00ff"/>
<rect x="81.61" y="516.85" width="5.1" height="5.1" fill="#2a00ff"/>
<rect x="100.54" y="524.15" width="5.1" height="5.1" fill="#2a00ff"/>
<rect x="113.16" y="543.9" width="5.1" height="5.1" fill="#2a00ff"/>
<rect x="125.78" y="578.24" width="5.1" height="5.1" fill="#2a00ff"/>
<rect x="138.4" y="624.41" width="5.1" height="5.1" fill="#2a00ff"/>
<rect x="151.02" y="636.61" width="5.1" height="5.1" fill="#2a00ff"/>
<rect x="163.64" y="642.65" width="5.1" height="5.1" fill="#2a00ff"/>
<path d="M46.3 519.4L65.23 519.4L103.09 519.4L115.71 524.68L128.33 530.47L140.95 540.79L153.57 551.35L166.19 573.49L178.81 602.43L191.43 636.52L204.05 644.32L216.67 645.2" fill="none" stroke="#cc0e1c" stroke-width="0.8" stroke-linejoin="round"/>
<path d="M65.23 516.08L67.7 521.68L62.76 521.68Z" fill="#cc0e1c"/>
<path d="M103.09 516.08L105.56 521.68L100.62 521.68Z" fill="#cc0e1c"/>
<path d="M115.71 521.36L118.18 526.96L113.24 526.96Z" fill="#cc0e1c"/>
<path d="M128.33 527.15L130.8 532.75L125.86 532.75Z" fill="#cc0e1c"/>
<path d="M140.95 537.47L143.42 543.07L138.48 543.07Z" fill="#cc0e1c"/>
<path d="M153.57 548.03L156.04 553.63L151.1 553.63Z" fill="#cc0e1c"/>
<path d="M166.19 570.17L168.66 575.77L163.72 575.77Z" fill="#cc0e1c"/>
<path d="M178.81 599.11L181.28 604.71L176.34 604.71Z" fill="#cc0e1c"/>
<path d="M191.43 633.2L193.9 638.8L188.96 638.8Z" fill="#cc0e1c"/>
<path d="M204.05 641L206.52 646.6L201.58 646.6Z" fill="#cc0e1c"/>
<path d="M216.67 641.88L219.14 647.48L214.2 647.48Z" fill="#cc0e1c"/>
</g>
<g>
<path d="M303.5 518.9V645.2 H491.9" fill="none" stroke="#000" stroke-width="0.75"/>
<path d="M299.7 645.2H303.5M299.7 620.04H303.5M299.7 594.88H303.5M299.7 569.72H303.5M299.7 544.56H303.5M299.7 519.4H303.5M303.5 645.2V648.8M350.6 645.2V648.8M397.7 645.2V648.8M444.8 645.2V648.8M491.9 645.2V648.8" fill="none" stroke="#000" stroke-width="0.75"/>
<text transform="translate(300,651.65) scale(1,1)" text-anchor="end" font-size="18">0</text>
<text transform="translate(300.2,626.49) scale(1,1)" text-anchor="end" font-size="18">20</text>
<text transform="translate(300.2,601.33) scale(1,1)" text-anchor="end" font-size="18">40</text>
<text transform="translate(300.2,576.17) scale(1,1)" text-anchor="end" font-size="18">60</text>
<text transform="translate(300.2,551.01) scale(1,1)" text-anchor="end" font-size="18">80</text>
<text transform="translate(300.2,525.85) scale(1,1)" text-anchor="end" font-size="18">100</text>
<text transform="translate(303.8,662.2) scale(1,1)" text-anchor="middle" font-size="18">0</text>
<text transform="translate(350.9,662.2) scale(1,1)" text-anchor="middle" font-size="18">10</text>
<text transform="translate(398,662.2) scale(1,1)" text-anchor="middle" font-size="18">20</text>
<text transform="translate(445.1,662.2) scale(1,1)" text-anchor="middle" font-size="18">30</text>
<text transform="translate(492.2,662.2) scale(1,1)" text-anchor="middle" font-size="18">40</text>
<text transform="translate(398.9,677.1) scale(1,1)" text-anchor="middle">Age (days)</text>
<text transform="translate(277.6,574.5) rotate(-90)" text-anchor="middle" font-size="18.1">Alive%</text>
<text transform="translate(259,486.7) scale(1.05,1)" font-size="14.3" font-weight="bold" stroke="#000" stroke-width="0.2">H</text>
<path d="M302.8 475.85H316.6" stroke="#000000" stroke-width="0.8" fill="none"/>
<circle cx="309.7" cy="475.85" r="2.62" fill="#000000"/>
<text transform="translate(324.8,481) scale(1,1)" font-style="italic">vector RNAi</text>
<path d="M302.8 490.4H316.6" stroke="#2a00ff" stroke-width="0.8" fill="none"/>
<rect x="307.15" y="487.85" width="5.1" height="5.1" fill="#2a00ff"/>
<text transform="translate(324.8,495) scale(1,1)" font-style="italic">vars-1 RNAi</text>
<path d="M302.8 505.4H316.6" stroke="#cc0e1c" stroke-width="0.8" fill="none"/>
<path d="M309.7 502.6L312.17 508.2L307.23 508.2Z" fill="#cc0e1c"/>
<text transform="translate(324.8,510) scale(1,1)" font-style="italic">vars-2 RNAi</text>
<path d="M317.63 519.4L355.31 522.29L364.73 530.97L374.15 550.1L383.57 568.71L392.99 594.5L402.41 625.07L411.83 636.9L421.25 643.94L430.67 645.2" fill="none" stroke="#000000" stroke-width="0.8" stroke-linejoin="round"/>
<circle cx="317.63" cy="519.4" r="2.62" fill="#000000"/>
<circle cx="355.31" cy="522.29" r="2.62" fill="#000000"/>
<circle cx="364.73" cy="530.97" r="2.62" fill="#000000"/>
<circle cx="374.15" cy="550.1" r="2.62" fill="#000000"/>
<circle cx="383.57" cy="568.71" r="2.62" fill="#000000"/>
<circle cx="392.99" cy="594.5" r="2.62" fill="#000000"/>
<circle cx="402.41" cy="625.07" r="2.62" fill="#000000"/>
<circle cx="411.83" cy="636.9" r="2.62" fill="#000000"/>
<circle cx="421.25" cy="643.94" r="2.62" fill="#000000"/>
<circle cx="430.67" cy="645.2" r="2.62" fill="#000000"/>
<path d="M317.63 519.4L355.31 525.44L364.73 534.12L374.15 541.79L383.57 555.13L392.99 566.7L402.41 577.39L411.83 587.71L421.25 598.15L430.67 608.47L440.09 618.91L449.51 629.35L458.93 637.78L468.35 645.2" fill="none" stroke="#2a00ff" stroke-width="0.8" stroke-linejoin="round"/>
<rect x="315.08" y="516.85" width="5.1" height="5.1" fill="#2a00ff"/>
<rect x="352.76" y="522.89" width="5.1" height="5.1" fill="#2a00ff"/>
<rect x="362.18" y="531.57" width="5.1" height="5.1" fill="#2a00ff"/>
<rect x="371.6" y="539.24" width="5.1" height="5.1" fill="#2a00ff"/>
<rect x="381.02" y="552.58" width="5.1" height="5.1" fill="#2a00ff"/>
<rect x="390.44" y="564.15" width="5.1" height="5.1" fill="#2a00ff"/>
<rect x="399.86" y="574.84" width="5.1" height="5.1" fill="#2a00ff"/>
<rect x="409.28" y="585.16" width="5.1" height="5.1" fill="#2a00ff"/>
<rect x="418.7" y="595.6" width="5.1" height="5.1" fill="#2a00ff"/>
<rect x="428.12" y="605.92" width="5.1" height="5.1" fill="#2a00ff"/>
<rect x="437.54" y="616.36" width="5.1" height="5.1" fill="#2a00ff"/>
<rect x="446.96" y="626.8" width="5.1" height="5.1" fill="#2a00ff"/>
<rect x="456.38" y="635.23" width="5.1" height="5.1" fill="#2a00ff"/>
<rect x="465.8" y="642.65" width="5.1" height="5.1" fill="#2a00ff"/>
<path d="M303.5 519.4L317.63 519.4L331.76 520.03L355.31 532.73L364.73 549.34L374.15 568.34L383.57 602.18L392.99 633.25L402.41 641.17L411.83 645.2" fill="none" stroke="#cc0e1c" stroke-width="0.8" stroke-linejoin="round"/>
<path d="M317.63 516.08L320.1 521.68L315.16 521.68Z" fill="#cc0e1c"/>
<path d="M331.76 516.71L334.23 522.31L329.29 522.31Z" fill="#cc0e1c"/>
<path d="M355.31 529.41L357.78 535.01L352.84 535.01Z" fill="#cc0e1c"/>
<path d="M364.73 546.02L367.2 551.62L362.26 551.62Z" fill="#cc0e1c"/>
<path d="M374.15 565.02L376.62 570.62L371.68 570.62Z" fill="#cc0e1c"/>
<path d="M383.57 598.86L386.04 604.46L381.1 604.46Z" fill="#cc0e1c"/>
<path d="M392.99 629.93L395.46 635.53L390.52 635.53Z" fill="#cc0e1c"/>
<path d="M402.41 637.85L404.88 643.45L399.94 643.45Z" fill="#cc0e1c"/>
<path d="M411.83 641.88L414.3 647.48L409.36 647.48Z" fill="#cc0e1c"/>
</g>
<g>
<path d="M550.7 520.2V644.4 H736.55" fill="none" stroke="#000" stroke-width="0.75"/>
<path d="M546.9 644.4H550.7M546.9 619.66H550.7M546.9 594.92H550.7M546.9 570.18H550.7M546.9 545.44H550.7M546.9 520.7H550.7M550.7 644.4V648M612.65 644.4V648M674.6 644.4V648M736.55 644.4V648" fill="none" stroke="#000" stroke-width="0.75"/>
<text transform="translate(542.8,650.85) scale(1,1)" text-anchor="end" font-size="18">0</text>
<text transform="translate(543.9,626.11) scale(1,1)" text-anchor="end" font-size="18">20</text>
<text transform="translate(543.9,601.37) scale(1,1)" text-anchor="end" font-size="18">40</text>
<text transform="translate(543.9,576.63) scale(1,1)" text-anchor="end" font-size="18">60</text>
<text transform="translate(543.9,551.89) scale(1,1)" text-anchor="end" font-size="18">80</text>
<text transform="translate(546.7,527.15) scale(1,1)" text-anchor="end" font-size="18">100</text>
<text transform="translate(551,660.9) scale(1,1)" text-anchor="middle" font-size="18">0</text>
<text transform="translate(612.95,660.9) scale(1,1)" text-anchor="middle" font-size="18">10</text>
<text transform="translate(674.9,660.9) scale(1,1)" text-anchor="middle" font-size="18">20</text>
<text transform="translate(736.85,660.9) scale(1,1)" text-anchor="middle" font-size="18">30</text>
<text transform="translate(644.2,675.4) scale(1,1)" text-anchor="middle">Age (days)</text>
<text transform="translate(523,578) rotate(-90)" text-anchor="middle" font-size="18.1">Alive%</text>
<text transform="translate(507.4,486.7) scale(1.05,1)" font-size="14.3" font-weight="bold" stroke="#000" stroke-width="0.2">I</text>
<path d="M549.9 475.4H563.7" stroke="#000000" stroke-width="0.8" fill="none"/>
<circle cx="556.8" cy="475.4" r="2.62" fill="#000000"/>
<text transform="translate(571.5,479) scale(1,1)" font-style="italic">vector RNAi</text>
<path d="M549.9 489.55H563.7" stroke="#2a00ff" stroke-width="0.8" fill="none"/>
<rect x="554.25" y="487" width="5.1" height="5.1" fill="#2a00ff"/>
<text transform="translate(571.5,494) scale(1,1)" font-style="italic">dars-1 RNAi</text>
<path d="M549.9 503.75H563.7" stroke="#cc0e1c" stroke-width="0.8" fill="none"/>
<path d="M556.8 500.95L559.27 506.55L554.33 506.55Z" fill="#cc0e1c"/>
<text transform="translate(571.5,508) scale(1,1)" font-style="italic">dars-2 RNAi</text>
<path d="M606.46 520.7L631.24 521.07L643.62 523.55L662.21 552.12L674.6 575.87L686.99 599.99L711.77 635.62L724.16 641.31L736.55 644.4" fill="none" stroke="#cc0e1c" stroke-width="0.8" stroke-linejoin="round"/>
<path d="M606.46 517.38L608.93 522.98L603.99 522.98Z" fill="#cc0e1c"/>
<path d="M631.24 517.75L633.71 523.35L628.76 523.35Z" fill="#cc0e1c"/>
<path d="M643.62 520.23L646.1 525.83L641.15 525.83Z" fill="#cc0e1c"/>
<path d="M662.21 548.8L664.68 554.4L659.74 554.4Z" fill="#cc0e1c"/>
<path d="M674.6 572.55L677.07 578.15L672.13 578.15Z" fill="#cc0e1c"/>
<path d="M686.99 596.67L689.46 602.27L684.52 602.27Z" fill="#cc0e1c"/>
<path d="M711.77 632.3L714.24 637.9L709.3 637.9Z" fill="#cc0e1c"/>
<path d="M724.16 637.99L726.63 643.59L721.69 643.59Z" fill="#cc0e1c"/>
<path d="M736.55 641.08L739.02 646.68L734.08 646.68Z" fill="#cc0e1c"/>
<path d="M606.46 520.7L618.85 542.47L631.24 594.18L643.62 605.68L662.21 633.27L674.6 638.09L686.99 644.4" fill="none" stroke="#2a00ff" stroke-width="0.8" stroke-linejoin="round"/>
<rect x="566.74" y="518.15" width="5.1" height="5.1" fill="#2a00ff"/>
<rect x="585.32" y="518.15" width="5.1" height="5.1" fill="#2a00ff"/>
<rect x="603.91" y="518.15" width="5.1" height="5.1" fill="#2a00ff"/>
<rect x="616.3" y="539.92" width="5.1" height="5.1" fill="#2a00ff"/>
<rect x="628.69" y="591.63" width="5.1" height="5.1" fill="#2a00ff"/>
<rect x="641.08" y="603.13" width="5.1" height="5.1" fill="#2a00ff"/>
<rect x="659.66" y="630.72" width="5.1" height="5.1" fill="#2a00ff"/>
<rect x="672.05" y="635.54" width="5.1" height="5.1" fill="#2a00ff"/>
<rect x="684.44" y="641.85" width="5.1" height="5.1" fill="#2a00ff"/>
<path d="M550.7 520.7L606.46 520.7L631.24 535.42L643.62 544.33L656.02 566.84L662.21 578.59L668.41 595.54L680.8 615.95L693.19 629.68L705.58 638.59L717.97 641.68L730.36 644.4" fill="none" stroke="#000000" stroke-width="0.8" stroke-linejoin="round"/>
<circle cx="606.46" cy="520.7" r="2.62" fill="#000000"/>
<circle cx="631.24" cy="535.42" r="2.62" fill="#000000"/>
<circle cx="643.62" cy="544.33" r="2.62" fill="#000000"/>
<circle cx="656.02" cy="566.84" r="2.62" fill="#000000"/>
<circle cx="662.21" cy="578.59" r="2.62" fill="#000000"/>
<circle cx="668.41" cy="595.54" r="2.62" fill="#000000"/>
<circle cx="680.8" cy="615.95" r="2.62" fill="#000000"/>
<circle cx="693.19" cy="629.68" r="2.62" fill="#000000"/>
<circle cx="705.58" cy="638.59" r="2.62" fill="#000000"/>
<circle cx="717.97" cy="641.68" r="2.62" fill="#000000"/>
<circle cx="730.36" cy="644.4" r="2.62" fill="#000000"/>
</g>
<g>
<path d="M45.6 747.6V872.05 H231.39" fill="none" stroke="#000" stroke-width="0.75"/>
<path d="M41.8 872.05H45.6M41.8 847.26H45.6M41.8 822.47H45.6M41.8 797.68H45.6M41.8 772.89H45.6M41.8 748.1H45.6M45.6 872.05V875.65M101.9 872.05V875.65M158.2 872.05V875.65M214.5 872.05V875.65" fill="none" stroke="#000" stroke-width="0.75"/>
<text transform="translate(36.4,878.5) scale(1,1)" text-anchor="end" font-size="18">0</text>
<text transform="translate(37.7,853.71) scale(1,1)" text-anchor="end" font-size="18">20</text>
<text transform="translate(37.7,828.92) scale(1,1)" text-anchor="end" font-size="18">40</text>
<text transform="translate(37.7,804.13) scale(1,1)" text-anchor="end" font-size="18">60</text>
<text transform="translate(37.7,779.34) scale(1,1)" text-anchor="end" font-size="18">80</text>
<text transform="translate(41.6,754.55) scale(1,1)" text-anchor="end" font-size="18">100</text>
<text transform="translate(45.9,888.8) scale(1,1)" text-anchor="middle" font-size="18">0</text>
<text transform="translate(102.2,888.8) scale(1,1)" text-anchor="middle" font-size="18">10</text>
<text transform="translate(158.5,888.8) scale(1,1)" text-anchor="middle" font-size="18">20</text>
<text transform="translate(214.8,888.8) scale(1,1)" text-anchor="middle" font-size="18">30</text>
<text transform="translate(132.5,903.4) scale(1,1)" text-anchor="middle">Age (days)</text>
<text transform="translate(15.8,805.3) rotate(-90)" text-anchor="middle" font-size="18.1">Alive%</text>
<text transform="translate(2.8,707.5) scale(1.05,1)" font-size="14.3" font-weight="bold" stroke="#000" stroke-width="0.2">J</text>
<path d="M45.3 705.9H59.1" stroke="#000000" stroke-width="0.8" fill="none"/>
<circle cx="52.2" cy="705.9" r="2.62" fill="#000000"/>
<text transform="translate(66.8,708) scale(1,1)" font-style="italic">vector RNAi</text>
<path d="M45.3 719.35H59.1" stroke="#2a00ff" stroke-width="0.8" fill="none"/>
<rect x="49.65" y="716.8" width="5.1" height="5.1" fill="#2a00ff"/>
<text transform="translate(66.8,723) scale(1,1)" font-style="italic">nars-1 RNAi</text>
<path d="M45.3 733.25H59.1" stroke="#cc0e1c" stroke-width="0.8" fill="none"/>
<path d="M52.2 730.45L54.67 736.05L49.73 736.05Z" fill="#cc0e1c"/>
<text transform="translate(66.8,737) scale(1,1)" font-style="italic">nars-2 RNAi</text>
<path d="M96.27 748.1L118.79 758.26L130.05 767.93L141.31 781.81L146.94 786.65L152.57 793.59L163.83 800.28L175.09 813.67L186.35 834.25L197.61 855.32L208.87 868.33L220.13 872.05" fill="none" stroke="#cc0e1c" stroke-width="0.8" stroke-linejoin="round"/>
<path d="M96.27 744.78L98.74 750.38L93.8 750.38Z" fill="#cc0e1c"/>
<path d="M118.79 754.94L121.26 760.54L116.32 760.54Z" fill="#cc0e1c"/>
<path d="M130.05 764.61L132.52 770.21L127.58 770.21Z" fill="#cc0e1c"/>
<path d="M141.31 778.49L143.78 784.09L138.84 784.09Z" fill="#cc0e1c"/>
<path d="M146.94 783.33L149.41 788.93L144.47 788.93Z" fill="#cc0e1c"/>
<path d="M152.57 790.27L155.04 795.87L150.1 795.87Z" fill="#cc0e1c"/>
<path d="M163.83 796.96L166.3 802.56L161.36 802.56Z" fill="#cc0e1c"/>
<path d="M175.09 810.35L177.56 815.95L172.62 815.95Z" fill="#cc0e1c"/>
<path d="M186.35 830.93L188.82 836.53L183.88 836.53Z" fill="#cc0e1c"/>
<path d="M197.61 852L200.08 857.6L195.14 857.6Z" fill="#cc0e1c"/>
<path d="M208.87 865.01L211.34 870.61L206.4 870.61Z" fill="#cc0e1c"/>
<path d="M220.13 868.73L222.6 874.33L217.66 874.33Z" fill="#cc0e1c"/>
<path d="M96.27 748.1L118.79 766.57L130.05 790L141.31 810.57L146.94 825.69L152.57 840.44L163.83 863.25L175.09 869.2L186.35 872.05" fill="none" stroke="#2a00ff" stroke-width="0.8" stroke-linejoin="round"/>
<rect x="93.72" y="745.55" width="5.1" height="5.1" fill="#2a00ff"/>
<rect x="116.24" y="764.02" width="5.1" height="5.1" fill="#2a00ff"/>
<rect x="127.5" y="787.45" width="5.1" height="5.1" fill="#2a00ff"/>
<rect x="138.76" y="808.02" width="5.1" height="5.1" fill="#2a00ff"/>
<rect x="144.39" y="823.14" width="5.1" height="5.1" fill="#2a00ff"/>
<rect x="150.02" y="837.89" width="5.1" height="5.1" fill="#2a00ff"/>
<rect x="161.28" y="860.7" width="5.1" height="5.1" fill="#2a00ff"/>
<rect x="172.54" y="866.65" width="5.1" height="5.1" fill="#2a00ff"/>
<rect x="183.8" y="869.5" width="5.1" height="5.1" fill="#2a00ff"/>
<path d="M45.6 748.1L96.27 748.1L118.79 763.22L130.05 771.65L141.31 794.46L146.94 806.11L152.57 822.47L163.83 843.54L175.09 856.93L186.35 865.85L197.61 869.2L208.87 872.05" fill="none" stroke="#000000" stroke-width="0.8" stroke-linejoin="round"/>
<circle cx="96.27" cy="748.1" r="2.62" fill="#000000"/>
<circle cx="118.79" cy="763.22" r="2.62" fill="#000000"/>
<circle cx="130.05" cy="771.65" r="2.62" fill="#000000"/>
<circle cx="141.31" cy="794.46" r="2.62" fill="#000000"/>
<circle cx="146.94" cy="806.11" r="2.62" fill="#000000"/>
<circle cx="152.57" cy="822.47" r="2.62" fill="#000000"/>
<circle cx="163.83" cy="843.54" r="2.62" fill="#000000"/>
<circle cx="175.09" cy="856.93" r="2.62" fill="#000000"/>
<circle cx="186.35" cy="865.85" r="2.62" fill="#000000"/>
<circle cx="197.61" cy="869.2" r="2.62" fill="#000000"/>
<circle cx="208.87" cy="872.05" r="2.62" fill="#000000"/>
</g>
<g>
<path d="M301.4 746.8V872.05 H488.28" fill="none" stroke="#000" stroke-width="0.75"/>
<path d="M297.6 872.05H301.4M297.6 847.1H301.4M297.6 822.15H301.4M297.6 797.2H301.4M297.6 772.25H301.4M297.6 747.3H301.4M301.4 872.05V875.65M359.8 872.05V875.65M418.2 872.05V875.65M476.6 872.05V875.65" fill="none" stroke="#000" stroke-width="0.75"/>
<text transform="translate(292.9,878.5) scale(1,1)" text-anchor="end" font-size="18">0</text>
<text transform="translate(294.3,853.55) scale(1,1)" text-anchor="end" font-size="18">20</text>
<text transform="translate(294.3,828.6) scale(1,1)" text-anchor="end" font-size="18">40</text>
<text transform="translate(294.3,803.65) scale(1,1)" text-anchor="end" font-size="18">60</text>
<text transform="translate(294.3,778.7) scale(1,1)" text-anchor="end" font-size="18">80</text>
<text transform="translate(297.7,753.75) scale(1,1)" text-anchor="end" font-size="18">100</text>
<text transform="translate(301.7,888.8) scale(1,1)" text-anchor="middle" font-size="18">0</text>
<text transform="translate(360.1,888.8) scale(1,1)" text-anchor="middle" font-size="18">10</text>
<text transform="translate(418.5,888.8) scale(1,1)" text-anchor="middle" font-size="18">20</text>
<text transform="translate(476.9,888.8) scale(1,1)" text-anchor="middle" font-size="18">30</text>
<text transform="translate(389.5,901.8) scale(1,1)" text-anchor="middle">Age (days)</text>
<text transform="translate(271.5,803.6) rotate(-90)" text-anchor="middle" font-size="18.1">Alive%</text>
<text transform="translate(259.4,707.5) scale(1.05,1)" font-size="14.3" font-weight="bold" stroke="#000" stroke-width="0.2">K</text>
<path d="M300.8 702.5H314.6" stroke="#000000" stroke-width="0.8" fill="none"/>
<circle cx="307.7" cy="702.5" r="2.62" fill="#000000"/>
<text transform="translate(322.4,706) scale(1,1)" font-style="italic">vector RNAi</text>
<path d="M300.8 717.6H314.6" stroke="#2a00ff" stroke-width="0.8" fill="none"/>
<rect x="305.15" y="715.05" width="5.1" height="5.1" fill="#2a00ff"/>
<text transform="translate(322.4,721) scale(1,1)" font-style="italic">sars-1 RNAi</text>
<path d="M300.8 733.25H314.6" stroke="#cc0e1c" stroke-width="0.8" fill="none"/>
<path d="M307.7 730.45L310.17 736.05L305.23 736.05Z" fill="#cc0e1c"/>
<text transform="translate(322.4,736) scale(1,1)" font-style="italic">sars-2 RNAi</text>
<path d="M353.96 747.3L377.32 757.03L389 766.39L400.68 777.12L406.52 782.73L412.36 787.84L424.04 801.44L435.72 822.77L447.4 844.23L459.08 857.58L470.76 866.69L482.44 872.05" fill="none" stroke="#cc0e1c" stroke-width="0.8" stroke-linejoin="round"/>
<path d="M353.96 743.98L356.43 749.58L351.49 749.58Z" fill="#cc0e1c"/>
<path d="M377.32 753.71L379.79 759.31L374.85 759.31Z" fill="#cc0e1c"/>
<path d="M389 763.07L391.47 768.67L386.53 768.67Z" fill="#cc0e1c"/>
<path d="M400.68 773.8L403.15 779.4L398.21 779.4Z" fill="#cc0e1c"/>
<path d="M406.52 779.41L408.99 785.01L404.05 785.01Z" fill="#cc0e1c"/>
<path d="M412.36 784.52L414.83 790.12L409.89 790.12Z" fill="#cc0e1c"/>
<path d="M424.04 798.12L426.51 803.72L421.57 803.72Z" fill="#cc0e1c"/>
<path d="M435.72 819.45L438.19 825.05L433.25 825.05Z" fill="#cc0e1c"/>
<path d="M447.4 840.91L449.87 846.51L444.93 846.51Z" fill="#cc0e1c"/>
<path d="M459.08 854.26L461.55 859.86L456.61 859.86Z" fill="#cc0e1c"/>
<path d="M470.76 863.37L473.23 868.97L468.29 868.97Z" fill="#cc0e1c"/>
<path d="M482.44 868.73L484.91 874.33L479.97 874.33Z" fill="#cc0e1c"/>
<path d="M353.96 747.3L365.64 752.17L377.32 770.88L389 796.08L400.68 817.04L406.52 829.51L412.36 844.6L424.04 864.32L435.72 872.05" fill="none" stroke="#2a00ff" stroke-width="0.8" stroke-linejoin="round"/>
<rect x="351.41" y="744.75" width="5.1" height="5.1" fill="#2a00ff"/>
<rect x="363.09" y="749.62" width="5.1" height="5.1" fill="#2a00ff"/>
<rect x="374.77" y="768.33" width="5.1" height="5.1" fill="#2a00ff"/>
<rect x="386.45" y="793.53" width="5.1" height="5.1" fill="#2a00ff"/>
<rect x="398.13" y="814.49" width="5.1" height="5.1" fill="#2a00ff"/>
<rect x="403.97" y="826.96" width="5.1" height="5.1" fill="#2a00ff"/>
<rect x="409.81" y="842.05" width="5.1" height="5.1" fill="#2a00ff"/>
<rect x="421.49" y="861.77" width="5.1" height="5.1" fill="#2a00ff"/>
<rect x="433.17" y="869.5" width="5.1" height="5.1" fill="#2a00ff"/>
<path d="M301.4 747.3L353.96 747.3L377.32 762.39L389 771.38L400.68 793.83L406.52 805.68L412.36 822.52L424.04 843.36L435.72 856.96L447.4 865.81L459.08 869.18L470.76 872.05" fill="none" stroke="#000000" stroke-width="0.8" stroke-linejoin="round"/>
<circle cx="353.96" cy="747.3" r="2.62" fill="#000000"/>
<circle cx="377.32" cy="762.39" r="2.62" fill="#000000"/>
<circle cx="389" cy="771.38" r="2.62" fill="#000000"/>
<circle cx="400.68" cy="793.83" r="2.62" fill="#000000"/>
<circle cx="406.52" cy="805.68" r="2.62" fill="#000000"/>
<circle cx="412.36" cy="822.52" r="2.62" fill="#000000"/>
<circle cx="424.04" cy="843.36" r="2.62" fill="#000000"/>
<circle cx="435.72" cy="856.96" r="2.62" fill="#000000"/>
<circle cx="447.4" cy="865.81" r="2.62" fill="#000000"/>
<circle cx="459.08" cy="869.18" r="2.62" fill="#000000"/>
<circle cx="470.76" cy="872.05" r="2.62" fill="#000000"/>
</g>
<g>
<path d="M551.4 745.9V872.05 H739.14" fill="none" stroke="#000" stroke-width="0.75"/>
<path d="M547.6 872.05H551.4M547.6 846.92H551.4M547.6 821.79H551.4M547.6 796.66H551.4M547.6 771.53H551.4M547.6 746.4H551.4M551.4 872.05V875.65M596.1 872.05V875.65M640.8 872.05V875.65M685.5 872.05V875.65M730.2 872.05V875.65" fill="none" stroke="#000" stroke-width="0.75"/>
<text transform="translate(543.1,878.5) scale(1,1)" text-anchor="end" font-size="18">0</text>
<text transform="translate(544.9,853.37) scale(1,1)" text-anchor="end" font-size="18">20</text>
<text transform="translate(544.9,828.24) scale(1,1)" text-anchor="end" font-size="18">40</text>
<text transform="translate(544.9,803.11) scale(1,1)" text-anchor="end" font-size="18">60</text>
<text transform="translate(544.9,777.98) scale(1,1)" text-anchor="end" font-size="18">80</text>
<text transform="translate(548.2,752.85) scale(1,1)" text-anchor="end" font-size="18">100</text>
<text transform="translate(551.7,888.8) scale(1,1)" text-anchor="middle" font-size="18">0</text>
<text transform="translate(596.4,888.8) scale(1,1)" text-anchor="middle" font-size="18">10</text>
<text transform="translate(641.1,888.8) scale(1,1)" text-anchor="middle" font-size="18">20</text>
<text transform="translate(685.8,888.8) scale(1,1)" text-anchor="middle" font-size="18">30</text>
<text transform="translate(730.5,888.8) scale(1,1)" text-anchor="middle" font-size="18">40</text>
<text transform="translate(652.6,903.4) scale(1,1)" text-anchor="middle">Age (days)</text>
<text transform="translate(520.5,803.4) rotate(-90)" text-anchor="middle" font-size="18.1">Alive%</text>
<text transform="translate(507.9,707.5) scale(1.05,1)" font-size="14.3" font-weight="bold" stroke="#000" stroke-width="0.2">L</text>
<path d="M550.6 705.3H564.4" stroke="#000000" stroke-width="0.8" fill="none"/>
<circle cx="557.5" cy="705.3" r="2.62" fill="#000000"/>
<text transform="translate(572.4,708) scale(1,1)" font-style="italic">vector RNAi</text>
<path d="M550.6 718.95H564.4" stroke="#2a00ff" stroke-width="0.8" fill="none"/>
<rect x="554.95" y="716.4" width="5.1" height="5.1" fill="#2a00ff"/>
<text transform="translate(572.4,722) scale(1,1)" font-style="italic">yars-1 RNAi</text>
<path d="M550.6 732.8H564.4" stroke="#cc0e1c" stroke-width="0.8" fill="none"/>
<path d="M557.5 730L559.97 735.6L555.03 735.6Z" fill="#cc0e1c"/>
<text transform="translate(572.4,736) scale(1,1)" font-style="italic">yars-2 RNAi</text>
<path d="M591.63 746.4L605.04 746.78L618.45 754.69L627.39 761.35L636.33 778.06L645.27 786.73L654.21 794.52L663.15 801.06L685.5 825.31L703.38 839.51L725.73 866.9L739.14 872.05" fill="none" stroke="#cc0e1c" stroke-width="0.8" stroke-linejoin="round"/>
<path d="M591.63 743.08L594.1 748.68L589.16 748.68Z" fill="#cc0e1c"/>
<path d="M605.04 743.46L607.51 749.06L602.57 749.06Z" fill="#cc0e1c"/>
<path d="M618.45 751.37L620.92 756.97L615.98 756.97Z" fill="#cc0e1c"/>
<path d="M627.39 758.03L629.86 763.63L624.92 763.63Z" fill="#cc0e1c"/>
<path d="M636.33 774.74L638.8 780.34L633.86 780.34Z" fill="#cc0e1c"/>
<path d="M645.27 783.41L647.74 789.01L642.8 789.01Z" fill="#cc0e1c"/>
<path d="M654.21 791.2L656.68 796.8L651.74 796.8Z" fill="#cc0e1c"/>
<path d="M663.15 797.74L665.62 803.34L660.68 803.34Z" fill="#cc0e1c"/>
<path d="M685.5 821.99L687.97 827.59L683.03 827.59Z" fill="#cc0e1c"/>
<path d="M703.38 836.19L705.85 841.79L700.91 841.79Z" fill="#cc0e1c"/>
<path d="M725.73 863.58L728.2 869.18L723.26 869.18Z" fill="#cc0e1c"/>
<path d="M739.14 868.73L741.61 874.33L736.67 874.33Z" fill="#cc0e1c"/>
<path d="M591.63 746.4L609.51 788.12L618.45 814.88L627.39 847.93L631.86 854.58L636.33 861.24L645.27 869.29L654.21 872.05" fill="none" stroke="#2a00ff" stroke-width="0.8" stroke-linejoin="round"/>
<rect x="589.08" y="743.85" width="5.1" height="5.1" fill="#2a00ff"/>
<rect x="606.96" y="785.57" width="5.1" height="5.1" fill="#2a00ff"/>
<rect x="615.9" y="812.33" width="5.1" height="5.1" fill="#2a00ff"/>
<rect x="624.84" y="845.38" width="5.1" height="5.1" fill="#2a00ff"/>
<rect x="629.31" y="852.03" width="5.1" height="5.1" fill="#2a00ff"/>
<rect x="633.78" y="858.69" width="5.1" height="5.1" fill="#2a00ff"/>
<rect x="642.72" y="866.74" width="5.1" height="5.1" fill="#2a00ff"/>
<rect x="651.66" y="869.5" width="5.1" height="5.1" fill="#2a00ff"/>
<path d="M551.4 746.4L591.63 746.4L609.51 761.73L618.45 770.78L627.39 793.77L631.86 805.46L636.33 822.42L645.27 843.28L654.21 856.97L663.15 865.89L672.09 869.29L681.03 872.05" fill="none" stroke="#000000" stroke-width="0.8" stroke-linejoin="round"/>
<circle cx="591.63" cy="746.4" r="2.62" fill="#000000"/>
<circle cx="609.51" cy="761.73" r="2.62" fill="#000000"/>
<circle cx="618.45" cy="770.78" r="2.62" fill="#000000"/>
<circle cx="627.39" cy="793.77" r="2.62" fill="#000000"/>
<circle cx="631.86" cy="805.46" r="2.62" fill="#000000"/>
<circle cx="636.33" cy="822.42" r="2.62" fill="#000000"/>
<circle cx="645.27" cy="843.28" r="2.62" fill="#000000"/>
<circle cx="654.21" cy="856.97" r="2.62" fill="#000000"/>
<circle cx="663.15" cy="865.89" r="2.62" fill="#000000"/>
<circle cx="672.09" cy="869.29" r="2.62" fill="#000000"/>
<circle cx="681.03" cy="872.05" r="2.62" fill="#000000"/>
</g>
<g>
<path d="M44.9 961.3V1089.3 H236.6" fill="none" stroke="#000" stroke-width="0.75"/>
<path d="M41.1 1089.3H44.9M41.1 1063.8H44.9M41.1 1038.3H44.9M41.1 1012.8H44.9M41.1 987.3H44.9M41.1 961.8H44.9M44.9 1089.3V1092.9M108.8 1089.3V1092.9M172.7 1089.3V1092.9M236.6 1089.3V1092.9" fill="none" stroke="#000" stroke-width="0.75"/>
<text transform="translate(42.7,1095.75) scale(1,1)" text-anchor="end" font-size="18">0</text>
<text transform="translate(41.5,1070.25) scale(1,1)" text-anchor="end" font-size="18">20</text>
<text transform="translate(41.5,1044.75) scale(1,1)" text-anchor="end" font-size="18">40</text>
<text transform="translate(41.5,1019.25) scale(1,1)" text-anchor="end" font-size="18">60</text>
<text transform="translate(41.5,993.75) scale(1,1)" text-anchor="end" font-size="18">80</text>
<text transform="translate(41.5,968.25) scale(1,1)" text-anchor="end" font-size="18">100</text>
<text transform="translate(45.2,1106) scale(1,1)" text-anchor="middle" font-size="18">0</text>
<text transform="translate(109.1,1106) scale(1,1)" text-anchor="middle" font-size="18">10</text>
<text transform="translate(173,1106) scale(1,1)" text-anchor="middle" font-size="18">20</text>
<text transform="translate(236.9,1106) scale(1,1)" text-anchor="middle" font-size="18">30</text>
<text transform="translate(142,1121.2) scale(1,1)" text-anchor="middle">Age (days)</text>
<text transform="translate(19.4,1025.9) rotate(-90)" text-anchor="middle" font-size="18.1">Alive%</text>
<text transform="translate(3.2,939.9) scale(1.05,1)" font-size="14.3" font-weight="bold" stroke="#000" stroke-width="0.2">M</text>
<path d="M44.7 933.7H58.5" stroke="#000000" stroke-width="0.8" fill="none"/>
<circle cx="51.6" cy="933.7" r="2.62" fill="#000000"/>
<text transform="translate(66.5,940) scale(1,1)" font-style="italic">vector RNAi</text>
<path d="M44.7 948.75H58.5" stroke="#2a00ff" stroke-width="0.8" fill="none"/>
<rect x="49.05" y="946.2" width="5.1" height="5.1" fill="#2a00ff"/>
<text transform="translate(66.5,955) scale(1,1)" font-style="italic">qars-1 RNAi</text>
<path d="M102.41 961.8L115.19 981.82L127.97 1004.51L140.75 1033.84L153.53 1046.46L159.92 1053.6L166.31 1061.89L179.09 1084.71L191.87 1087.13L204.65 1089.3" fill="none" stroke="#2a00ff" stroke-width="0.8" stroke-linejoin="round"/>
<rect x="99.86" y="959.25" width="5.1" height="5.1" fill="#2a00ff"/>
<rect x="112.64" y="979.27" width="5.1" height="5.1" fill="#2a00ff"/>
<rect x="125.42" y="1001.96" width="5.1" height="5.1" fill="#2a00ff"/>
<rect x="138.2" y="1031.29" width="5.1" height="5.1" fill="#2a00ff"/>
<rect x="150.98" y="1043.91" width="5.1" height="5.1" fill="#2a00ff"/>
<rect x="157.37" y="1051.05" width="5.1" height="5.1" fill="#2a00ff"/>
<rect x="163.76" y="1059.34" width="5.1" height="5.1" fill="#2a00ff"/>
<rect x="176.54" y="1082.16" width="5.1" height="5.1" fill="#2a00ff"/>
<rect x="189.32" y="1084.58" width="5.1" height="5.1" fill="#2a00ff"/>
<rect x="202.1" y="1086.75" width="5.1" height="5.1" fill="#2a00ff"/>
<path d="M44.9 961.8L102.41 961.8L127.97 977.36L140.75 986.41L153.53 1009.74L159.92 1021.98L166.31 1038.81L179.09 1060.48L191.87 1074.38L204.65 1083.18L217.43 1086.49L230.21 1089.3" fill="none" stroke="#000000" stroke-width="0.8" stroke-linejoin="round"/>
<circle cx="102.41" cy="961.8" r="2.62" fill="#000000"/>
<circle cx="127.97" cy="977.36" r="2.62" fill="#000000"/>
<circle cx="140.75" cy="986.41" r="2.62" fill="#000000"/>
<circle cx="153.53" cy="1009.74" r="2.62" fill="#000000"/>
<circle cx="159.92" cy="1021.98" r="2.62" fill="#000000"/>
<circle cx="166.31" cy="1038.81" r="2.62" fill="#000000"/>
<circle cx="179.09" cy="1060.48" r="2.62" fill="#000000"/>
<circle cx="191.87" cy="1074.38" r="2.62" fill="#000000"/>
<circle cx="204.65" cy="1083.18" r="2.62" fill="#000000"/>
<circle cx="217.43" cy="1086.49" r="2.62" fill="#000000"/>
<circle cx="230.21" cy="1089.3" r="2.62" fill="#000000"/>
</g>
</svg>
</body></html>
